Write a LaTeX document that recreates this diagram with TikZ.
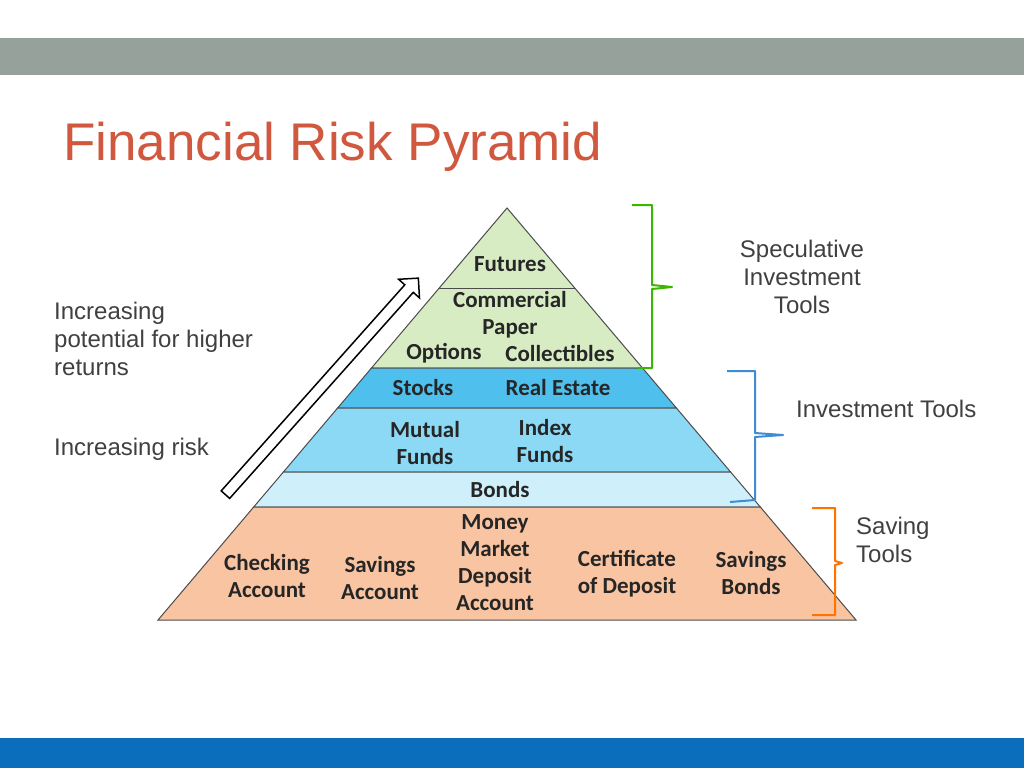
\documentclass[tikz,border=0pt]{standalone}
\usepackage{fontspec}
\setmainfont{Liberation Sans}
\newfontfamily\calib{Carlito}
\usetikzlibrary{shapes.arrows}
\definecolor{topgrey}{HTML}{95A19A}
\definecolor{footblue}{HTML}{0A6EBD}
\definecolor{titlered}{HTML}{D0583F}
\definecolor{specgreen}{HTML}{D8ECC4}
\definecolor{stockblue}{HTML}{4FC0EE}
\definecolor{fundblue}{HTML}{8CD9F6}
\definecolor{bondblue}{HTML}{CFF0FB}
\definecolor{saveorange}{HTML}{F8C4A2}
\begin{document}
\begin{tikzpicture}[
    x = 1pt,
    y = -1pt,
    band/.style = {draw=black!70, line width=1pt},
    lbl/.style = {font=\calib\bfseries\fontsize{23}{27}\selectfont, align=center,
              inner sep=0pt, text=black!85},
    side/.style = {font=\fontsize{24}{28}\selectfont, text=black!75, inner sep=0pt},
    brace/.style = {line width=2pt, line join=round},
    ]

\useasboundingbox (0,0) rectangle (1024,768);
\fill[white] (0,0) rectangle (1024,768);
\fill[topgrey] (0,38) rectangle (1024,75);
\fill[footblue] (0,738) rectangle (1024,768);
\node[anchor=base west, inner sep=0pt, text=titlered,
      font=\fontsize{53}{58}\selectfont] (title) at (63,160) {Financial Risk Pyramid};

% pyramid bands
\draw[band, fill=specgreen] (507,208) -- (642.5,368) -- (371.5,368) -- cycle;
\draw[band] (439,288) -- (575,288);
\draw[band, fill=stockblue] (371.5,368) -- (642.5,368) -- (676.4,408) -- (337.6,408) -- cycle;
\draw[band, fill=fundblue] (337.6,408) -- (676.4,408) -- (730.6,472) -- (283.4,472) -- cycle;
\draw[band, fill=bondblue] (283.4,472) -- (730.6,472) -- (760.3,507) -- (253.7,507) -- cycle;
\draw[band, fill=saveorange] (253.7,507) -- (760.3,507) -- (856,620) -- (158,620) -- cycle;

\node[lbl] (futures) at (510,264) {Futures};
\node[lbl] (commercial) at (510,315) {Commercial\\Paper};
\node[lbl] (options) at (444,353) {Options};
\node[lbl] (collect) at (560,353) {Collectibles};
\node[lbl] (stocks) at (423,388) {Stocks};
\node[lbl] (realestate) at (558,388) {Real Estate};
\node[lbl] (mutual) at (425,443) {Mutual\\Funds};
\node[lbl] (index) at (545,441) {Index\\Funds};
\node[lbl] (bonds) at (500,490) {Bonds};
\node[lbl] (checking) at (267,576) {Checking\\Account};
\node[lbl] (savings) at (380,578) {Savings\\Account};
\node[lbl] (money) at (495,563) {Money\\Market\\Deposit\\Account};
\node[lbl] (cert) at (627,574) {Certificate\\of Deposit};
\node[lbl] (savbonds) at (751,573) {Savings\\Bonds};

% hollow arrow
\node[single arrow, draw=black, line width=1.5pt, fill=white, rotate=48.3,
      minimum height=290, minimum width=28, single arrow head extend=7,
      single arrow head indent=0pt, inner sep=4pt] (riskarrow) at (320,388.5) {};

% braces
\draw[brace, green!60!black!70!lime] (632,205) -- (652,205) -- (652,285) -- (672,287)
    -- (652,289) -- (652,368) -- (638,368);
\draw[brace, cyan!60!blue!80] (727,371) -- (755,371) -- (755,433) -- (783,435)
    -- (755,437) -- (755,500) -- (730,502);
\draw[brace, orange!90!red] (812,508) -- (835,508) -- (835,561) -- (842,563)
    -- (835,565) -- (835,615) -- (812,615);

% side texts
\node[side, align=center] (spec) at (802,277) {Speculative\\Investment\\Tools};
\node[side, anchor=west] (invest) at (796,409) {Investment Tools};
\node[side, anchor=west, align=left] (saving) at (856,540) {Saving\\Tools};
\node[side, anchor=west, align=left] (returns) at (54,339) {Increasing\\potential for higher\\returns};
\node[side, anchor=west] (risk) at (54,449) {Increasing risk};

\end{tikzpicture}
\end{document}
